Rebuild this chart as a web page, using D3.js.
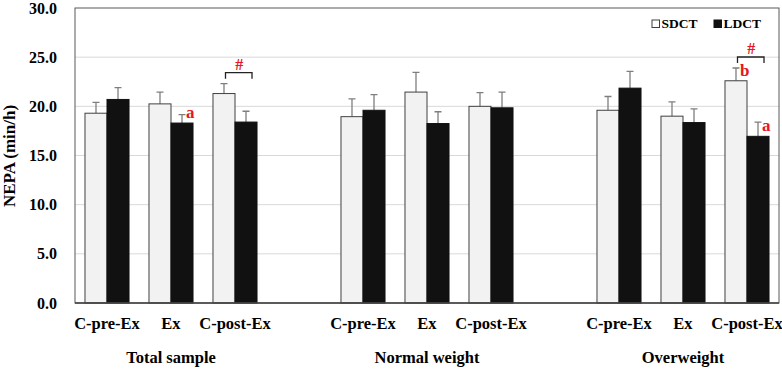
<!DOCTYPE html>
<html>
<head>
<meta charset="utf-8">
<script src="https://cdn.jsdelivr.net/npm/d3@7"></script>
<style>
  body { margin: 0; background: #fff; }
  svg { font-family: "Liberation Serif", "Times New Roman", serif; font-weight: bold; }
</style>
</head>
<body>
<svg id="chart" width="782" height="369"></svg>
<script>
// data
const groups = ['Total sample', 'Normal weight', 'Overweight']
const phases = ['C-pre-Ex', 'Ex', 'C-post-Ex']
const series = ['SDCT', 'LDCT']
const sdctMean = [19.3, 20.25, 21.3, 18.95, 21.45, 20.0, 19.6, 19.0, 22.6]
const sdctErr = [1.1, 1.2, 1.0, 1.8, 2.0, 1.4, 1.4, 1.45, 1.3]
const ldctMean = [20.7, 18.3, 18.4, 19.6, 18.25, 19.85, 21.85, 18.35, 16.95]
const ldctErr = [1.2, 0.85, 1.1, 1.6, 1.2, 1.6, 1.7, 1.4, 1.45]
const yTicks = [0, 5, 10, 15, 20, 25, 30]
// significance marks: [slot index, series, letter]
const letters = [[1, 'LDCT', 'a'], [8, 'SDCT', 'b'], [8, 'LDCT', 'a']]
const brackets = [2, 8]

const svg = d3.select('#chart')
const MARGIN = { top: 8, right: 3, bottom: 66, left: 75 }
const width = 782, height = 369
const boundedWidth = width - MARGIN.left - MARGIN.right
const boundedHeight = height - MARGIN.top - MARGIN.bottom

// 11 slots: three phases per group with an empty slot between groups
const slots = []
groups.forEach((g, gi) => {
  phases.forEach(p => slots.push(g + '|' + p))
  if (gi < groups.length - 1) slots.push('gap' + gi)
})
const dataSlots = slots.filter(s => !s.startsWith('gap'))

const x = d3.scaleBand().domain(slots).range([0, boundedWidth]).paddingInner(0).paddingOuter(0)
const xInner = d3.scaleBand().domain(series).range([x.bandwidth() * 0.156, x.bandwidth() * 0.844])
const y = d3.scaleLinear().domain([0, 30]).range([boundedHeight, 0])

const color = { SDCT: '#f2f2f2', LDCT: '#111111' }
const red = '#e8141e'

const g = svg.append('g').attr('transform', `translate(${MARGIN.left}, ${MARGIN.top})`)

// gridlines
g.selectAll('.grid')
  .data(yTicks.filter(t => t > 0 && t < 30))
  .enter().append('line')
  .attr('x1', 0).attr('x2', boundedWidth)
  .attr('y1', d => y(d)).attr('y2', d => y(d))
  .attr('stroke', '#d9d9d9').attr('stroke-width', 1)

// y axis labels
const yAxis = d3.axisLeft(y).tickValues(yTicks).tickFormat(d3.format('.1f')).tickSize(0).tickPadding(18)
g.append('g').call(yAxis)
  .call(a => a.select('.domain').remove())
  .selectAll('text')
  .attr('font-family', '"Liberation Serif", serif')
  .attr('font-weight', 'bold')
  .attr('font-size', 16)
  .attr('fill', '#000')

// bars
const rows = dataSlots.map((s, i) => ({
  slot: s,
  idx: i,
  values: [
    { key: 'SDCT', mean: sdctMean[i], err: sdctErr[i] },
    { key: 'LDCT', mean: ldctMean[i], err: ldctErr[i] }
  ]
}))

const slotG = g.selectAll('.slot')
  .data(rows)
  .enter().append('g')
  .attr('class', 'slot')
  .attr('transform', d => `translate(${x(d.slot)}, 0)`)

// error bars (upward only) drawn under the bars
slotG.selectAll('.err')
  .data(d => d.values)
  .enter().append('path')
  .attr('d', d => {
    const cx = xInner(d.key) + xInner.bandwidth() / 2
    const top = y(d.mean + d.err)
    return `M${cx},${y(d.mean)}V${top}M${cx - 3.5},${top}H${cx + 3.5}`
  })
  .attr('stroke', '#7f7f7f').attr('stroke-width', 1.3).attr('fill', 'none')

slotG.selectAll('rect')
  .data(d => d.values)
  .enter().append('rect')
  .attr('x', d => xInner(d.key))
  .attr('y', d => y(d.mean))
  .attr('width', xInner.bandwidth())
  .attr('height', d => boundedHeight - y(d.mean))
  .attr('fill', d => color[d.key])
  .attr('stroke', d => d.key === 'SDCT' ? '#404040' : '#111')
  .attr('stroke-width', 1)

// frame
g.append('rect')
  .attr('x', 0).attr('y', 0)
  .attr('width', boundedWidth).attr('height', boundedHeight)
  .attr('fill', 'none').attr('stroke', '#595959').attr('stroke-width', 1)
g.append('line')
  .attr('x1', 0).attr('x2', boundedWidth)
  .attr('y1', boundedHeight).attr('y2', boundedHeight)
  .attr('stroke', '#404040').attr('stroke-width', 1.5)

// significance letters, placed just right of the bar top
letters.forEach(([i, key, txt]) => {
  const d = rows[i].values.find(v => v.key === key)
  g.append('text')
    .attr('x', x(dataSlots[i]) + xInner(key) + xInner.bandwidth() / 2 + 4)
    .attr('y', y(d.mean) - 5)
    .attr('fill', red)
    .attr('font-size', 17)
    .text(txt)
})

// brackets with #
brackets.forEach(i => {
  const s = rows[i].values[0], l = rows[i].values[1]
  const x0 = x(dataSlots[i]) + xInner('SDCT') + xInner.bandwidth() / 2 + 1.5
  const x1 = x(dataSlots[i]) + xInner('LDCT') + xInner.bandwidth() / 2 + 6
  const top = y(Math.max(s.mean + s.err, l.mean + l.err)) - 11
  g.append('path')
    .attr('d', `M${x0},${top + 6}V${top}H${x1}V${top + 6}`)
    .attr('stroke', '#222').attr('stroke-width', 1.3).attr('fill', 'none')
  g.append('text')
    .attr('x', (x0 + x1) / 2 + 0.5).attr('y', top - 3)
    .attr('text-anchor', 'middle')
    .attr('fill', red)
    .attr('font-size', 16)
    .text('#')
})

// category labels
g.selectAll('.cat')
  .data(dataSlots)
  .enter().append('text')
  .attr('x', d => x(d) + x.bandwidth() / 2)
  .attr('y', boundedHeight + 26)
  .attr('text-anchor', 'middle')
  .attr('font-size', 16.5)
  .text(d => d.split('|')[1])

// group labels
groups.forEach(gr => {
  const mid = x(gr + '|' + phases[1]) + x.bandwidth() / 2
  g.append('text')
    .attr('x', mid)
    .attr('y', boundedHeight + 60)
    .attr('text-anchor', 'middle')
    .attr('font-size', 16.5)
    .text(gr)
})

// y label
svg.append('text')
  .attr('transform', `translate(15, 156) rotate(-90)`)
  .attr('text-anchor', 'middle')
  .attr('font-size', 17)
  .text('NEPA (min/h)')

// legend
const legend = svg.append('g').attr('transform', 'translate(652, 27)')
series.forEach((s, i) => {
  const lg = legend.append('g').attr('transform', `translate(${i * 62}, 0)`)
  lg.append('rect')
    .attr('x', 0).attr('y', -7).attr('width', 7.5).attr('height', 7.5)
    .attr('fill', color[s] === '#f2f2f2' ? '#fff' : color[s]).attr('stroke', s === 'SDCT' ? '#404040' : '#111')
  lg.append('text')
    .attr('x', 9.5).attr('y', 0.5)
    .attr('font-size', 13.5)
    .text(s)
})
</script>
</body>
</html>
